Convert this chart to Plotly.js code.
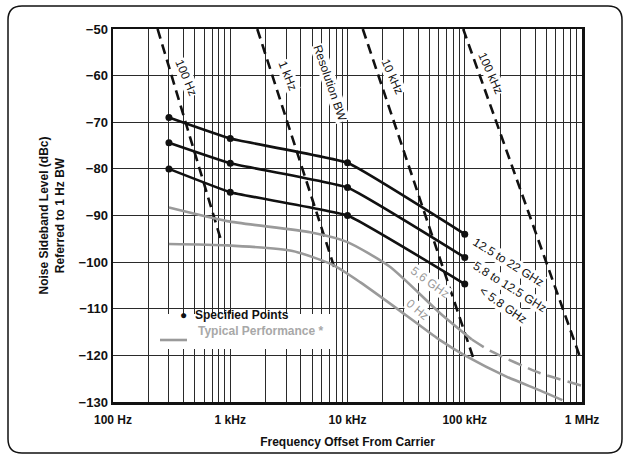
<!DOCTYPE html>
<html>
<head>
<meta charset="utf-8">
<script src="https://cdn.plot.ly/plotly-3.0.1.min.js"></script>
<style>
  html, body { margin: 0; padding: 0; background: #fff; }
  #chart { width: 624px; height: 456px; }
</style>
</head>
<body>
<div id="chart"></div>
<script>
// ---- Data ----
const specFreq = [300, 1000, 10000, 100000];
const specHigh = [-69, -73.5, -78.7, -94];     // 12.5 to 22 GHz
const specMid  = [-74.4, -78.8, -84, -99];     // 5.8 to 12.5 GHz
const specLow  = [-80, -85, -90, -104.7];      // < 5.8 GHz

const typ56Freq = [300, 940, 4800, 10000, 23000, 62000, 115000];
const typ56Val  = [-88.3, -91.2, -93.6, -95.7, -101, -111, -116.6];
const typ56DashFreq = [115000, 164000, 437000, 1000000];
const typ56DashVal  = [-116.6, -119, -123.8, -126.5];

const typ0Freq = [300, 940, 3400, 7500, 12800, 32000, 62000, 100000, 229000, 437000, 680000];
const typ0Val  = [-96.1, -96.4, -97.6, -100.6, -104.3, -111.5, -116.8, -120, -124.6, -127.5, -129.6];

const rbw100Freq  = [240, 850];       const rbw100Val  = [-50, -96];
const rbw1kFreq   = [1700, 7800];     const rbw1kVal   = [-50, -101.5];
const rbw10kFreq  = [13500, 118000];  const rbw10kVal  = [-50, -120.5];
const rbw100kFreq = [97000, 960000];  const rbw100kVal = [-50, -120.3];

const xTickVals = [100, 1000, 10000, 100000, 1000000];
const xTickText = ['100 Hz', '1 kHz', '10 kHz', '100 kHz', '1 MHz'];
const yTickVals = [-50, -60, -70, -80, -90, -100, -110, -120, -130];

// ---- build minor grid tick list (1..9 per decade) ----
const gridVals = [], gridText = [];
for (let d = 100; d <= 1000000; d *= 10) {
  for (let m = 1; m <= 9; m++) {
    const v = d * m;
    if (v > 1000000) break;
    gridVals.push(v);
    const idx = xTickVals.indexOf(v);
    gridText.push(idx >= 0 ? xTickText[idx] : '');
  }
}

const BLACK = '#111';
const GRAY = '#9a9a9a';

function specTrace(vals) {
  return { x: specFreq, y: vals, type: 'scatter', mode: 'lines+markers',
    line: { color: BLACK, width: 2.6, shape: 'spline', smoothing: 0.3 },
    marker: { color: BLACK, size: 7 }, showlegend: false, hoverinfo: 'skip' };
}
function rbwTrace(xs, ys) {
  return { x: xs, y: ys, type: 'scatter', mode: 'lines',
    line: { color: BLACK, width: 2.6, dash: '10px,6px' }, showlegend: false, hoverinfo: 'skip' };
}

const traces = [
  rbwTrace(rbw100Freq, rbw100Val),
  rbwTrace(rbw1kFreq, rbw1kVal),
  rbwTrace(rbw10kFreq, rbw10kVal),
  rbwTrace(rbw100kFreq, rbw100kVal),
  { x: typ56Freq, y: typ56Val, type: 'scatter', mode: 'lines',
    line: { color: GRAY, width: 2.6, shape: 'spline', smoothing: 0.6 }, showlegend: false, hoverinfo: 'skip' },
  { x: typ56DashFreq, y: typ56DashVal, type: 'scatter', mode: 'lines',
    line: { color: GRAY, width: 2.6, shape: 'spline', smoothing: 0.6, dash: '14px,7px' }, showlegend: false, hoverinfo: 'skip' },
  { x: typ0Freq, y: typ0Val, type: 'scatter', mode: 'lines',
    line: { color: GRAY, width: 2.6, shape: 'spline', smoothing: 0.6 }, showlegend: false, hoverinfo: 'skip' },
  specTrace(specHigh),
  specTrace(specMid),
  specTrace(specLow)
];

const FONT = 'Liberation Sans, Arial, Helvetica, sans-serif';

function lbl(text, lx, y, angle, color, size) {
  return { text: text, x: lx, y: y, xref: 'x', yref: 'y', showarrow: false,
    textangle: angle, font: { family: FONT, size: size || 12, color: color || BLACK },
    bgcolor: '#ffffff', borderpad: 0 };
}

// frame (rounded rectangle around the whole figure) in paper coords
const X = px => (px - 113) / 469;
const Y = py => (402 - py) / 373;
const fx0 = X(8), fx1 = X(622), fy0 = Y(453), fy1 = Y(6);
const rx = 14 / 469, ry = 14 / 373;
const framePath = `M ${fx0 + rx},${fy1} L ${fx1 - rx},${fy1} Q ${fx1},${fy1} ${fx1},${fy1 - ry} ` +
  `L ${fx1},${fy0 + ry} Q ${fx1},${fy0} ${fx1 - rx},${fy0} L ${fx0 + rx},${fy0} ` +
  `Q ${fx0},${fy0} ${fx0},${fy0 + ry} L ${fx0},${fy1 - ry} Q ${fx0},${fy1} ${fx0 + rx},${fy1} Z`;

const layout = {
  width: 624, height: 456,
  margin: { l: 113, r: 42, t: 29, b: 54 },
  paper_bgcolor: '#fff', plot_bgcolor: '#fff',
  font: { family: FONT, color: BLACK },
  showlegend: false,
  xaxis: {
    type: 'log', range: [2, 6],
    tickmode: 'array', tickvals: gridVals, ticktext: gridText,
    showgrid: true, gridcolor: '#2a2a2a', gridwidth: 1,
    ticks: '', ticklabelstandoff: 5,
    showline: true, linecolor: BLACK, linewidth: 2.5, mirror: true,
    tickfont: { family: FONT, size: 12, color: BLACK, weight: 'bold' },
    zeroline: false,
    title: { text: '<b>Frequency Offset From Carrier</b>', font: { family: FONT, size: 12, color: BLACK }, standoff: 12 }
  },
  yaxis: {
    range: [-130, -50], tickmode: 'array', tickvals: yTickVals,
    showgrid: true, gridcolor: '#2a2a2a', gridwidth: 1,
    ticks: '', showline: true, linecolor: BLACK, linewidth: 2.5, mirror: true,
    tickfont: { family: FONT, size: 13, color: BLACK, weight: 'bold' },
    zeroline: false,
    title: { text: '<b>Noise Sideband Level (dBc)<br>Referred to 1 Hz BW</b>', font: { family: FONT, size: 12, color: BLACK }, standoff: 12 }
  },
  shapes: [
    { type: 'path', xref: 'paper', yref: 'paper', path: framePath, line: { color: BLACK, width: 1.5 }, fillcolor: 'rgba(0,0,0,0)', layer: 'above' },
    { type: 'rect', xref: 'paper', yref: 'paper', x0: X(155), x1: X(334), y0: Y(349), y1: Y(314), line: { width: 0 }, fillcolor: '#ffffff', layer: 'above' },
    { type: 'line', xref: 'paper', yref: 'paper', x0: X(160), x1: X(187), y0: Y(340), y1: Y(340), line: { color: GRAY, width: 2.6 }, layer: 'above' }
  ],
  annotations: [
    lbl('100 Hz', 2.625, -60.5, 67),
    lbl('1 kHz', 3.49, -60.1, 68),
    lbl('Resolution BW', 3.85, -61.6, 71),
    lbl('10 kHz', 4.38, -60.1, 66),
    lbl('100 kHz', 5.22, -59.4, 66),
    lbl('12.5 to 22 GHz', 5.37, -100, 32),
    lbl('5.8 to 12.5 GHz', 5.386, -105.3, 32),
    lbl('< 5.8 GHz', 5.326, -109.2, 35),
    lbl('5.6 GHz', 4.70, -104.3, 36, GRAY),
    lbl('0 Hz', 4.60, -110.3, 40, GRAY),
    { text: '●', x: X(178), y: Y(324), xref: 'paper', yref: 'paper', showarrow: false,
      font: { family: FONT, size: 12, color: BLACK } },
    { text: '<b>Specified Points</b>', x: X(193), y: Y(324), xref: 'paper', yref: 'paper', xanchor: 'left', showarrow: false,
      font: { family: FONT, size: 12, color: BLACK } },
    { text: '<b>Typical Performance *</b>', x: X(196), y: Y(340), xref: 'paper', yref: 'paper', xanchor: 'left', showarrow: false,
      font: { family: FONT, size: 12, color: '#a8a8a8' } }
  ]
};

Plotly.newPlot('chart', traces, layout, { displayModeBar: false, staticPlot: true });
</script>
</body>
</html>
